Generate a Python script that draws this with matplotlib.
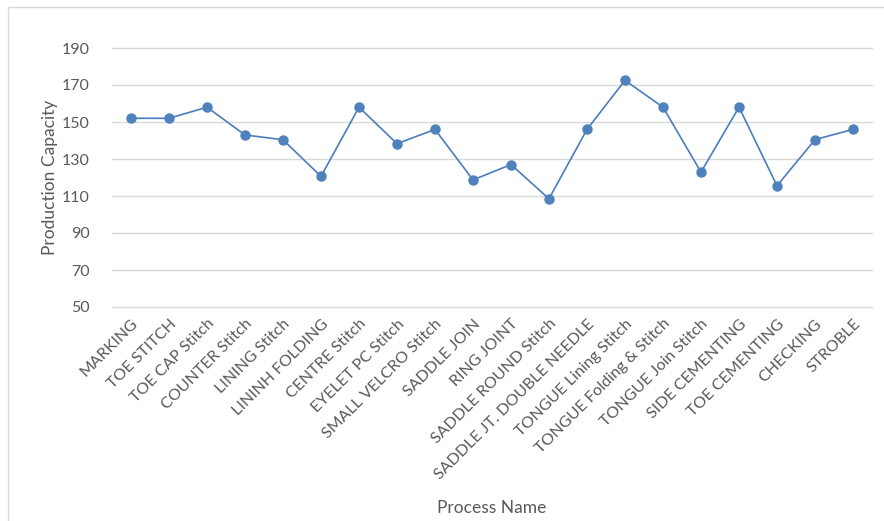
import matplotlib.pyplot as plt
from matplotlib.patches import Rectangle

# production capacity per process (pairs/hour)
processes = ['MARKING', 'TOE STITCH', 'TOE CAP Stitch', 'COUNTER Stitch', 'LINING Stitch',
             'LININH FOLDING', 'CENTRE Stitch', 'EYELET PC Stitch', 'SMALL VELCRO Stitch',
             'SADDLE JOIN', 'RING JOINT', 'SADDLE ROUND Stitch', 'SADDLE JT. DOUBLE NEEDLE',
             'TONGUE Lining Stitch', 'TONGUE Folding & Stitch', 'TONGUE Join Stitch',
             'SIDE CEMENTING', 'TOE CEMENTING', 'CHECKING', 'STROBLE']
capacity = [152, 152, 158, 143, 140.4, 120.6, 158, 138.3, 146, 118.7,
            127, 108.5, 146, 172.5, 158, 122.9, 158, 115.5, 140.5, 146]
y_ticks = [50, 70, 90, 110, 130, 150, 170, 190]

TEXT = '#595959'
GRID = '#d9d9d9'
LINE = '#4a7ebb'

plt.rcParams['font.family'] = ['Lato', 'DejaVu Sans']

fig = plt.figure(figsize=(8.84, 5.21), dpi=100)
ax = fig.add_axes([112 / 884, 1 - 307 / 521, 760 / 884, 259 / 521])

# chart border (runs off the right/bottom edge)
fig.patches.append(Rectangle((8 / 884, -0.05), 1.0, 1 - 7 / 521 + 0.05,
                             transform=fig.transFigure, fill=False,
                             edgecolor=GRID, linewidth=1.0))

x = list(range(len(processes)))
ax.plot(x, capacity, color=LINE, linewidth=1.2, marker='o', markersize=6.5,
        markerfacecolor='#4f81bd', markeredgecolor='#4f81bd', zorder=3)

ax.set_xlim(-0.5, len(processes) - 0.5)
ax.set_ylim(50, 190)
ax.set_yticks(y_ticks)
ax.set_xticks(x)
ax.set_xticklabels(processes, rotation=45, ha='right', rotation_mode='anchor')

ax.grid(True, axis='y', color=GRID, linewidth=1.0)
# keep the edge gridlines (50 and 190) from being clipped in half
for gl in ax.get_ygridlines():
    gl.set_clip_on(False)
ax.set_axisbelow(True)
for side in ['top', 'right', 'left', 'bottom']:
    ax.spines[side].set_visible(False)
ax.tick_params(axis='both', length=0, colors=TEXT, labelsize=11.5)
ax.tick_params(axis='y', pad=16)
ax.tick_params(axis='x', pad=7)

ax.set_ylabel('Production Capacity', fontsize=12.5, color=TEXT, labelpad=3)
fig.text(492 / 884, 1 - 508 / 521, 'Process Name', fontsize=12.5, color=TEXT,
         ha='center', va='center')

fig.savefig('out.png', dpi=100, facecolor='white')
